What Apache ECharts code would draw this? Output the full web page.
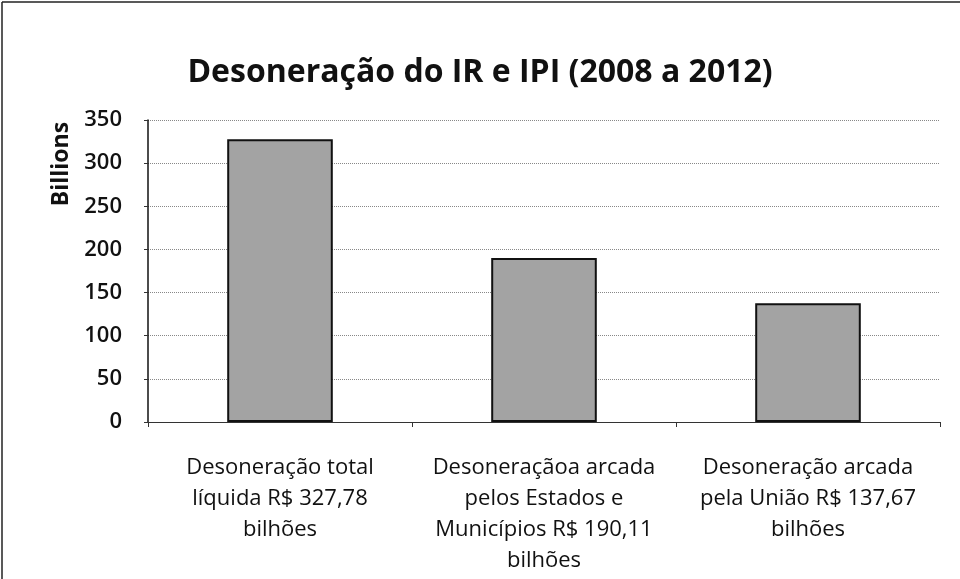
<!DOCTYPE html>
<html>
<head>
<meta charset="utf-8">
<script src="https://cdn.jsdelivr.net/npm/echarts@6/dist/echarts.min.js"></script>
<style>
  html, body { margin: 0; padding: 0; background: #fff; }
  #chart { width: 960px; height: 579px; }
</style>
</head>
<body>
<div id="chart"></div>
<script>
// categorias (rótulos do eixo x) e valores em bilhões
const categories = [
  'Desoneração total\nlíquida R$ 327,78\nbilhões',
  'Desoneraçãoa arcada\npelos Estados e\nMunicípios R$ 190,11\nbilhões',
  'Desoneração arcada\npela União R$ 137,67\nbilhões'
]
const values = [327.78, 190.11, 137.67]
const yTicks = { min: 0, max: 350, interval: 50 }

const font = '"Open Sans", "Noto Sans", sans-serif'

const chart = echarts.init(document.getElementById('chart'))
chart.setOption({
  animation: false,
  backgroundColor: '#fff',
  title: {
    text: 'Desoneração do IR e IPI (2008 a 2012)',
    left: 'center',
    top: 52,
    textStyle: {
      fontFamily: font,
      fontSize: 32,
      fontWeight: 'bold',
      color: '#111'
    }
  },
  grid: { left: 148, right: 20, top: 120, bottom: 157 },
  xAxis: {
    type: 'category',
    data: categories,
    axisLine: { lineStyle: { color: '#333', width: 1 } },
    axisTick: { show: true, length: 5, lineStyle: { color: '#333' } },
    axisLabel: {
      margin: 30,
      interval: 0,
      fontFamily: font,
      fontSize: 22,
      lineHeight: 31,
      color: '#111'
    }
  },
  yAxis: {
    type: 'value',
    min: yTicks.min,
    max: yTicks.max,
    interval: yTicks.interval,
    axisLine: { show: true, lineStyle: { color: '#111', width: 1.5 } },
    axisTick: { show: true, length: 4, lineStyle: { color: '#333' } },
    axisLabel: {
      margin: 26,
      fontFamily: font,
      fontSize: 22,
      fontWeight: 600,
      color: '#111'
    },
    splitLine: { lineStyle: { color: '#888', type: 'dotted', width: 1 } }
  },
  series: [{
    type: 'bar',
    data: values,
    barWidth: '40%',
    itemStyle: { color: '#a3a3a3', borderColor: '#111', borderWidth: 2 }
  }],
  graphic: [
    {
      type: 'text',
      x: 61,
      y: 164,
      rotation: Math.PI / 2,
      style: {
        text: 'Billions',
        fontFamily: font,
        fontSize: 23,
        fontWeight: 'bold',
        fill: '#111',
        align: 'center',
        verticalAlign: 'middle'
      }
    },
    { type: 'line', shape: { x1: 2, y1: 2, x2: 2, y2: 579 }, style: { stroke: '#222', lineWidth: 1.5 } },
    { type: 'line', shape: { x1: 2, y1: 2, x2: 960, y2: 2 }, style: { stroke: '#222', lineWidth: 1.5 } }
  ]
})
</script>
</body>
</html>
